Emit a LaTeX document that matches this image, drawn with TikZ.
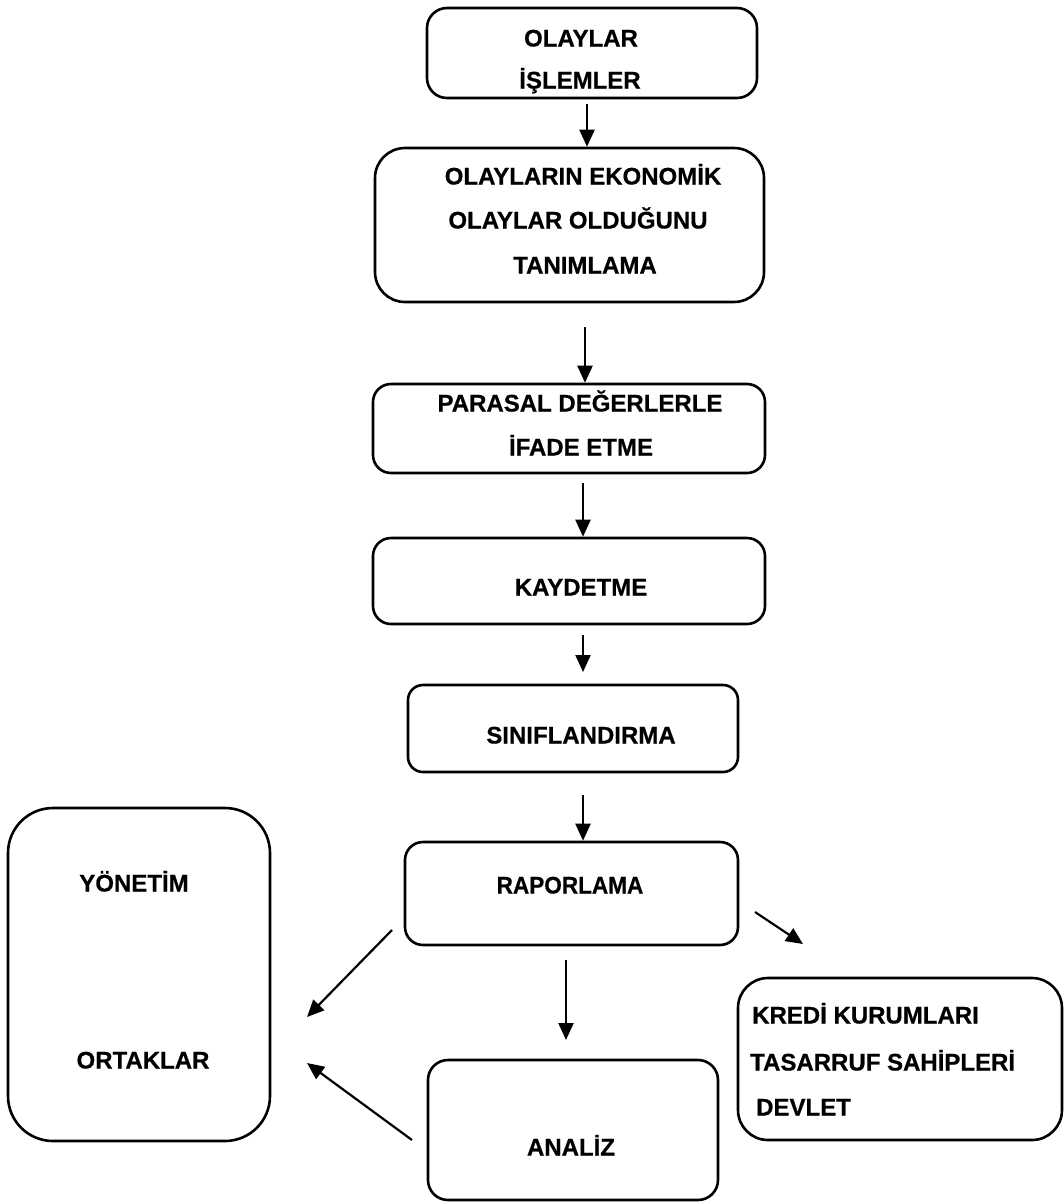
\documentclass[tikz,border=0pt]{standalone}
\usepackage{fontspec}
\setmainfont[BoldFeatures={FakeBold=0.6}]{Liberation Sans}
\usetikzlibrary{arrows.meta}
\begin{document}
\begin{tikzpicture}[x=1pt,y=-1pt,
  box/.style={draw, line width=2.6pt, rounded corners=#1, inner sep=0pt},
  box/.default=18pt,
  lbl/.style={anchor=base, inner sep=0pt, font=\fontsize{24}{28}\bfseries\selectfont},
  lbll/.style={lbl, anchor=base west},
  arr/.style={line width=2.2pt, -{Triangle[length=17pt,width=15pt]}}]
\useasboundingbox (0,0) rectangle (1064,1203);

% process boxes
\node[box=20pt, minimum width=330pt, minimum height=90pt]  (b1) at (592,53) {};
\node[box=30pt, minimum width=389pt, minimum height=154pt] (b2) at (569.5,225) {};
\node[box, minimum width=392pt, minimum height=89pt]       (b3) at (569,428.5) {};
\node[box, minimum width=392pt, minimum height=86pt]       (b4) at (569,581) {};
\node[box=15pt, minimum width=330pt, minimum height=87pt]  (b5) at (573,728.5) {};
\node[box, minimum width=333pt, minimum height=103pt]      (b6) at (571.5,893.5) {};
\node[box=20pt, minimum width=290pt, minimum height=140pt] (b7) at (573,1130) {};
\node[box=30pt, minimum width=324pt, minimum height=162pt] (b8) at (900,1059) {};
\node[box=45pt, minimum width=262pt, minimum height=333pt] (b9) at (139,974.5) {};

% labels
\node[lbl] (t1a) at (581,46.5)  {OLAYLAR};
\node[lbl] (t1b) at (580,88.5)  {İŞLEMLER};
\node[lbl] (t2a) at (583,184.5) {OLAYLARIN EKONOMİK};
\node[lbl] (t2b) at (578,228.5) {OLAYLAR OLDUĞUNU};
\node[lbl] (t2c) at (585,273.5) {TANIMLAMA};
\node[lbl] (t3a) at (580,411.5) {PARASAL DEĞERLERLE};
\node[lbl] (t3b) at (581,455.5) {İFADE ETME};
\node[lbl] (t4)  at (581,595.5) {KAYDETME};
\node[lbl] (t5)  at (581,743.5) {SINIFLANDIRMA};
\node[lbl] (t6)  at (570,893.5) {\scalebox{0.94}[1]{RAPORLAMA}};
\node[lbl] (t7)  at (571,1155.5) {ANALİZ};
\node[lbll] (t8a) at (752,1023.5) {KREDİ KURUMLARI};
\node[lbll] (t8b) at (750,1070.5) {TASARRUF SAHİPLERİ};
\node[lbll] (t8c) at (756,1115.5) {DEVLET};
\node[lbl] (t9a) at (134,891.5) {YÖNETİM};
\node[lbl] (t9b) at (143,1068.5) {ORTAKLAR};

% connector end points
\coordinate (a1) at (587,104);
\coordinate (a2) at (585,327);
\coordinate (a3) at (583,483);
\coordinate (a4) at (583,635);
\coordinate (a4e) at (583,672);
\coordinate (a5) at (583,795);
\coordinate (a6) at (566,960);
\coordinate (a6e) at (566,1040);
\coordinate (a7) at (755,912);
\coordinate (a7e) at (803,944);
\coordinate (a8) at (392,930);
\coordinate (a8e) at (307,1017);
\coordinate (a9) at (412,1140);
\coordinate (a9e) at (307,1063);

% connectors
\draw[arr] (a1) -- (a1 |- b2.north);
\draw[arr] (a2) -- (a2 |- b3.north);
\draw[arr] (a3) -- (a3 |- b4.north);
\draw[arr] (a4) -- (a4e);
\draw[arr] (a5) -- (a5 |- b6.north);
\draw[arr] (a6) -- (a6e);
\draw[arr] (a7) -- (a7e);
\draw[arr] (a8) -- (a8e);
\draw[arr] (a9) -- (a9e);
\end{tikzpicture}
\end{document}
